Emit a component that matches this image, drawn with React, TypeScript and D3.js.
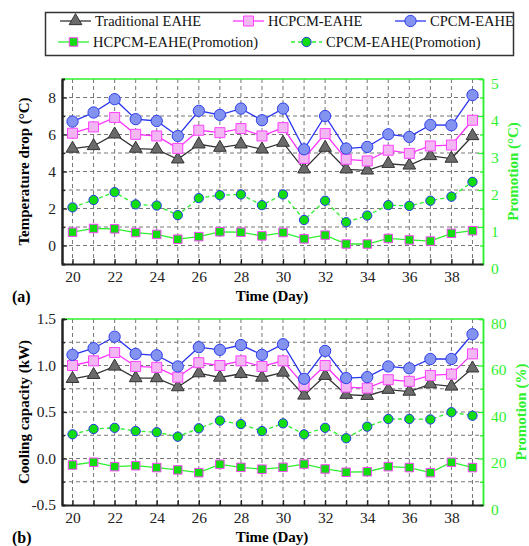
import React, { useEffect, useRef } from 'react';
import * as d3 from 'd3';

// days on the x axis
const days = [20, 21, 22, 23, 24, 25, 26, 27, 28, 29, 30, 31, 32, 33, 34, 35, 36, 37, 38, 39];

// (a) temperature drop (°C), left axis
const tempTrad = [5.24, 5.38, 6.01, 5.24, 5.2, 4.66, 5.47, 5.29, 5.47, 5.2, 5.56, 4.12, 5.29, 4.12, 4.06, 4.42, 4.33, 4.84, 4.7, 5.92];
const tempHcpcm = [6.07, 6.41, 6.92, 6.01, 5.92, 5.25, 6.23, 6.1, 6.32, 5.92, 6.37, 4.71, 6.05, 4.66, 4.57, 5.15, 4.98, 5.38, 5.43, 6.77];
const tempCpcm = [6.7, 7.19, 7.91, 6.83, 6.73, 5.92, 7.28, 7.06, 7.4, 6.77, 7.4, 5.2, 7.0, 5.24, 5.33, 6.01, 5.87, 6.52, 6.5, 8.13];
// (a) promotion (°C), right axis
const tempHcpcmPro = [0.86, 0.96, 0.95, 0.85, 0.8, 0.67, 0.74, 0.87, 0.86, 0.76, 0.85, 0.68, 0.78, 0.54, 0.54, 0.69, 0.65, 0.62, 0.83, 0.9];
const tempCpcmPro = [1.53, 1.73, 1.94, 1.61, 1.58, 1.32, 1.78, 1.86, 1.88, 1.59, 1.88, 1.19, 1.71, 1.13, 1.31, 1.59, 1.57, 1.71, 1.82, 2.22];

// (b) cooling capacity (kW), left axis
const coolTrad = [0.857, 0.9, 0.99, 0.865, 0.865, 0.768, 0.918, 0.871, 0.911, 0.871, 0.925, 0.678, 0.89, 0.686, 0.675, 0.74, 0.72, 0.8, 0.775, 0.97];
const coolHcpcm = [1.0, 1.05, 1.14, 0.99, 0.98, 0.875, 1.03, 1.0, 1.05, 0.99, 1.05, 0.786, 1.0, 0.768, 0.757, 0.847, 0.83, 0.893, 0.907, 1.125];
const coolCpcm = [1.115, 1.186, 1.31, 1.125, 1.11, 0.99, 1.197, 1.168, 1.22, 1.115, 1.229, 0.857, 1.157, 0.865, 0.875, 0.99, 0.97, 1.07, 1.07, 1.336];
// (b) promotion (%), right axis
const coolHcpcmPro = [17.2, 18.4, 16.5, 16.9, 16.1, 15.1, 13.9, 17.5, 16.2, 15.4, 16.2, 17.6, 15.5, 14.1, 14.3, 16.5, 16.1, 13.9, 18.4, 16.1];
const coolCpcmPro = [30.4, 32.7, 33.2, 31.8, 31.3, 29.4, 33.0, 36.3, 34.8, 31.8, 35.1, 30.4, 33.2, 28.7, 33.7, 37.0, 37.0, 36.8, 39.9, 38.4];

const legendNames = ['Traditional EAHE', 'HCPCM-EAHE', 'CPCM-EAHE', 'HCPCM-EAHE(Promotion)', 'CPCM-EAHE(Promotion)'];

const FONT = '"Liberation Serif", "Times New Roman", serif';
const GREEN = '#2ef02e';

const styles = {
  trad: { line: '#333', fill: '#6a6a6a', stroke: '#333', symbol: d3.symbolTriangle, size: 70, dash: null },
  hcpcm: { line: '#ff33ff', fill: '#f2b6f2', stroke: '#ff40ff', symbol: d3.symbolSquare, size: 100, dash: null },
  cpcm: { line: '#2a35ee', fill: '#8393ef', stroke: '#3040ee', symbol: d3.symbolCircle, size: 100, dash: null },
  hcpcmPro: { line: GREEN, fill: '#11dd11', stroke: '#ff40ff', symbol: d3.symbolSquare, size: 72, dash: null },
  cpcmPro: { line: GREEN, fill: '#11dd11', stroke: '#2a35ee', symbol: d3.symbolCircle, size: 68, dash: '4,3' },
};

const drawPanel = (svg, p) => {
  const x = d3.scaleLinear().domain([19.5, 39.5]).range([62, 483]);
  const yL = d3.scaleLinear().domain(p.leftDomain).range([p.bottom, p.top]);
  const yR = d3.scaleLinear().domain(p.rightDomain).range([p.bottom, p.top]);
  const g = svg.append('g');

  // grid
  const grid = g.append('g').attr('stroke', '#777').attr('stroke-dasharray', '4,3').attr('stroke-width', 1);
  grid.selectAll('line.v').data(days).enter().append('line')
    .attr('x1', d => x(d)).attr('x2', d => x(d)).attr('y1', p.top).attr('y2', p.bottom);
  grid.selectAll('line.h').data(p.gridValues).enter().append('line')
    .attr('x1', 62).attr('x2', 483).attr('y1', d => yL(d)).attr('y2', d => yL(d));

  // series
  p.series.forEach(s => {
    const y = s.right ? yR : yL;
    const st = styles[s.key];
    g.append('path').datum(s.values)
      .attr('fill', 'none').attr('stroke', st.line).attr('stroke-width', 1.3)
      .attr('stroke-dasharray', st.dash)
      .attr('d', d3.line().x((d, i) => x(days[i])).y(d => y(d)));
    g.append('g').selectAll('path').data(s.values).enter().append('path')
      .attr('transform', (d, i) => `translate(${x(days[i])},${y(d)})`)
      .attr('d', d3.symbol().type(st.symbol).size(st.size))
      .attr('fill', st.fill).attr('stroke', st.stroke).attr('stroke-width', 1);
  });

  const styleAxis = (ax, color, width) => {
    ax.select('.domain').attr('stroke', color).attr('stroke-width', width);
    ax.selectAll('.tick line').attr('stroke', color).attr('stroke-width', 1.3);
    ax.selectAll('.tick text').attr('fill', color).attr('font-family', FONT).attr('font-size', 15.5);
  };

  // top & right (green)
  g.append('line').attr('x1', 62).attr('x2', 483).attr('y1', p.top).attr('y2', p.top)
    .attr('stroke', GREEN).attr('stroke-width', 1.5);
  const right = g.append('g').attr('transform', 'translate(483,0)')
    .call(d3.axisRight(yR).tickValues(p.rightTicks).tickSize(-5).tickSizeOuter(0).tickPadding(8)
      .tickFormat(d => String(d)));
  styleAxis(right, GREEN, 1.5);
  right.selectAll('.tick text').attr('dy', '0.6em');
  const rightMinor = g.append('g').attr('transform', 'translate(483,0)')
    .call(d3.axisRight(yR).tickValues(p.rightMinor).tickSize(-3).tickFormat(() => ''));
  styleAxis(rightMinor, GREEN, 1.5);

  // left & bottom (black)
  const left = g.append('g').attr('transform', 'translate(62,0)')
    .call(d3.axisLeft(yL).tickValues(p.leftTicks).tickSize(-5).tickSizeOuter(0).tickPadding(6).tickFormat(p.leftFormat));
  styleAxis(left, '#222', 2);
  const leftMinor = g.append('g').attr('transform', 'translate(62,0)')
    .call(d3.axisLeft(yL).tickValues(p.leftMinor).tickSize(-3).tickFormat(() => ''));
  styleAxis(leftMinor, '#222', 2);

  const bottom = g.append('g').attr('transform', `translate(0,${p.bottom})`)
    .call(d3.axisBottom(x).tickValues(days).tickSize(-5).tickSizeOuter(0).tickPadding(7)
      .tickFormat(d => (d % 2 === 0 ? String(d) : '')));
  styleAxis(bottom, '#222', 2);

  // titles
  g.append('text').attr('x', 272).attr('y', p.bottom + 32).attr('text-anchor', 'middle')
    .attr('dominant-baseline', 'central').attr('font-family', FONT).attr('font-weight', 'bold')
    .attr('font-size', 15).text('Time (Day)');
  g.append('text').attr('x', 12).attr('y', p.bottom + 32).attr('dominant-baseline', 'central')
    .attr('font-family', FONT).attr('font-weight', 'bold').attr('font-size', 16).text(p.tag);
  const mid = (p.top + p.bottom) / 2;
  g.append('text').attr('transform', `translate(24,${mid}) rotate(-90)`).attr('text-anchor', 'middle')
    .attr('dominant-baseline', 'central').attr('font-family', FONT).attr('font-weight', 'bold')
    .attr('font-size', 15).text(p.leftTitle);
  g.append('text').attr('transform', `translate(${p.rightTitleX},${mid}) rotate(-90)`).attr('text-anchor', 'middle')
    .attr('dominant-baseline', 'central').attr('font-family', FONT).attr('font-weight', 'bold')
    .attr('font-size', 15).attr('fill', GREEN).text(p.rightTitle);
};

const drawLegend = svg => {
  const g = svg.append('g');
  g.append('rect').attr('x', 45.5).attr('y', 12.5).attr('width', 468).attr('height', 43)
    .attr('fill', 'white').attr('stroke', '#333').attr('stroke-width', 1.5);
  const items = [
    { key: 'trad', x: 60, y: 21 },
    { key: 'hcpcm', x: 233, y: 21 },
    { key: 'cpcm', x: 395, y: 21 },
    { key: 'hcpcmPro', x: 58, y: 42 },
    { key: 'cpcmPro', x: 291, y: 42 },
  ];
  items.forEach((it, i) => {
    const st = styles[it.key];
    g.append('line').attr('x1', it.x).attr('x2', it.x + 31).attr('y1', it.y).attr('y2', it.y)
      .attr('stroke', st.line).attr('stroke-width', 1.3).attr('stroke-dasharray', st.dash);
    g.append('path').attr('transform', `translate(${it.x + 15.5},${it.y})`)
      .attr('d', d3.symbol().type(st.symbol).size(st.size))
      .attr('fill', st.fill).attr('stroke', st.stroke);
    g.append('text').attr('x', it.x + 35).attr('y', it.y).attr('dominant-baseline', 'central')
      .attr('font-family', FONT).attr('font-size', 14.5).attr('fill', '#111').text(legendNames[i]);
  });
};

export default function App() {
  const ref = useRef(null);
  useEffect(() => {
    const svg = d3.select(ref.current);
    svg.selectAll('*').remove();
    drawLegend(svg);
    drawPanel(svg, {
      top: 79, bottom: 264, tag: '(a)',
      leftDomain: [-1, 9], rightDomain: [0, 5],
      leftTicks: [0, 2, 4, 6, 8], leftMinor: [-1, 1, 3, 5, 7],
      gridValues: [0, 1, 2, 3, 4, 5, 6, 7, 8],
      rightTicks: [0, 1, 2, 3, 4, 5], rightMinor: [0.5, 1.5, 2.5, 3.5, 4.5],
      leftFormat: d => String(d),
      leftTitle: 'Temperature drop (°C)', rightTitle: 'Promotion (°C)', rightTitleX: 513,
      series: [
        { key: 'hcpcmPro', values: tempHcpcmPro, right: true },
        { key: 'cpcmPro', values: tempCpcmPro, right: true },
        { key: 'trad', values: tempTrad },
        { key: 'hcpcm', values: tempHcpcm },
        { key: 'cpcm', values: tempCpcm },
      ],
    });
    drawPanel(svg, {
      top: 319, bottom: 505, tag: '(b)',
      leftDomain: [-0.5, 1.5], rightDomain: [0, 80],
      leftTicks: [-0.5, 0, 0.5, 1, 1.5], leftMinor: [-0.25, 0.25, 0.75, 1.25],
      gridValues: [-0.25, 0, 0.25, 0.5, 0.75, 1, 1.25],
      rightTicks: [0, 20, 40, 60, 80], rightMinor: [10, 30, 50, 70],
      leftFormat: d => d.toFixed(1),
      leftTitle: 'Cooling capacity (kW)', rightTitle: 'Promotion (%)', rightTitleX: 521,
      series: [
        { key: 'hcpcmPro', values: coolHcpcmPro, right: true },
        { key: 'cpcmPro', values: coolCpcmPro, right: true },
        { key: 'trad', values: coolTrad },
        { key: 'hcpcm', values: coolHcpcm },
        { key: 'cpcm', values: coolCpcm },
      ],
    });
  }, []);

  return (
    <svg ref={ref} width={529} height={546}
      style={{ position: 'absolute', left: 0, top: 0, background: 'white', display: 'block' }} />
  );
}
